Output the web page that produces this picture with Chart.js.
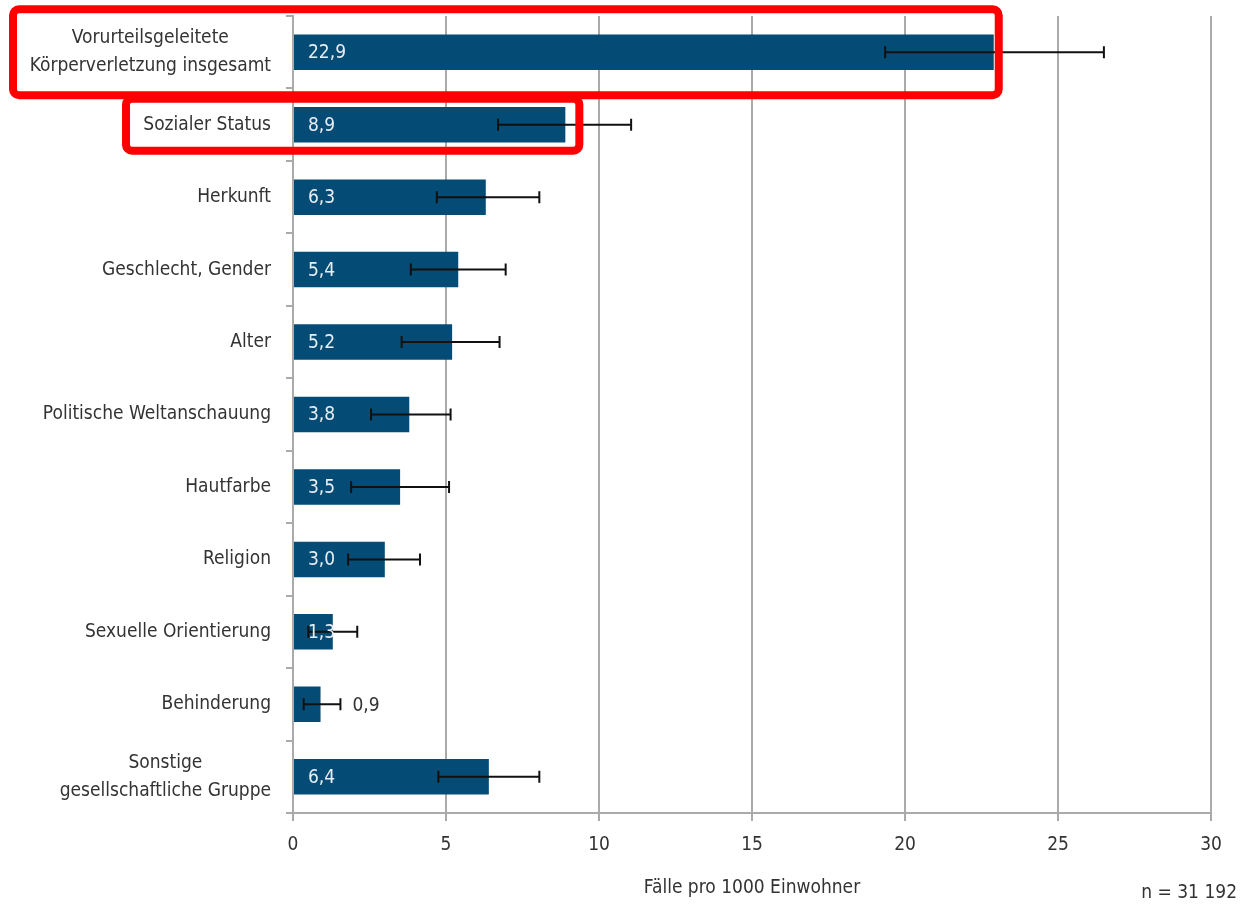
<!DOCTYPE html>
<html>
<head>
<meta charset="utf-8">
<script src="https://cdn.jsdelivr.net/npm/chart.js@4/dist/chart.umd.min.js"></script>
<style>
  html, body { margin: 0; padding: 0; background: #fff; }
  #wrap { width: 1241px; height: 905px; position: relative; }
</style>
</head>
<body>
<div id="wrap"><canvas id="chart" width="1241" height="905"></canvas></div>
<script>
// Daten (Fälle pro 1000 Einwohner)
const categories = [
    ["Vorurteilsgeleitete", "Körperverletzung insgesamt"],
    ["Sozialer Status"],
    ["Herkunft"],
    ["Geschlecht, Gender"],
    ["Alter"],
    ["Politische Weltanschauung"],
    ["Hautfarbe"],
    ["Religion"],
    ["Sexuelle Orientierung"],
    ["Behinderung"],
    ["Sonstige", "gesellschaftliche Gruppe"]
];
const values = [22.9, 8.9, 6.3, 5.4, 5.2, 3.8, 3.5, 3.0, 1.3, 0.9, 6.4];
const errLow = [19.35, 6.7, 4.7, 3.85, 3.55, 2.55, 1.9, 1.8, 0.5, 0.35, 4.75];
const errHigh = [26.5, 11.05, 8.05, 6.95, 6.75, 5.15, 5.1, 4.15, 2.1, 1.55, 8.05];
const xTicks = [0, 5, 10, 15, 20, 25, 30];

const FONT = "'DejaVu Sans Condensed', 'DejaVu Sans', sans-serif";
const FS = 19;
const TEXT = "#333333";
const BAR = "#044b75";

function fmt(v) {
    return v.toFixed(1).replace(".", ",");
}

// Beschriftung der Kategorien (zentriert, rechtsbündiger Block)
const labelPlugin = {
    id: "catLabels",
    afterDraw(chart) {
        const ctx = chart.ctx;
        const y = chart.scales.y;
        const right = y.right - 22;
        ctx.save();
        ctx.font = FS + "px " + FONT;
        ctx.fillStyle = TEXT;
        ctx.textAlign = "center";
        ctx.textBaseline = "middle";
        categories.forEach((lines, i) => {
            const cy = y.getPixelForValue(i);
            const w = Math.max(...lines.map(l => ctx.measureText(l).width));
            const cx = right - w / 2;
            const lh = 28;
            lines.forEach((l, k) => {
                ctx.fillText(l, cx, cy + (k - (lines.length - 1) / 2) * lh);
            });
        });
        ctx.restore();
    }
};

// Fehlerbalken und Werte
const errorPlugin = {
    id: "errorBars",
    afterDatasetsDraw(chart) {
        const ctx = chart.ctx;
        const x = chart.scales.x;
        const y = chart.scales.y;
        ctx.save();
        ctx.strokeStyle = "#111";
        ctx.lineWidth = 2;
        values.forEach((v, i) => {
            const cy = y.getPixelForValue(i);
            const x1 = x.getPixelForValue(errLow[i]);
            const x2 = x.getPixelForValue(errHigh[i]);
            ctx.beginPath();
            ctx.moveTo(x1, cy); ctx.lineTo(x2, cy);
            ctx.moveTo(x1, cy - 6); ctx.lineTo(x1, cy + 6);
            ctx.moveTo(x2, cy - 6); ctx.lineTo(x2, cy + 6);
            ctx.stroke();
        });
        ctx.font = FS + "px " + FONT;
        ctx.textBaseline = "middle";
        ctx.textAlign = "left";
        values.forEach((v, i) => {
            const cy = y.getPixelForValue(i);
            const x0 = x.getPixelForValue(0);
            const xe = x.getPixelForValue(v);
            if (xe - x0 > 35) {
                ctx.fillStyle = "#e8eef3";
                ctx.fillText(fmt(v), x0 + 15, cy + 1);
            } else {
                ctx.fillStyle = TEXT;
                ctx.fillText(fmt(v), x.getPixelForValue(errHigh[i]) + 12, cy + 2);
            }
        });
        ctx.restore();
    }
};

// rote Markierungen
const highlightPlugin = {
    id: "highlight",
    afterDraw(chart, args, opts) {
        const ctx = chart.ctx;
        const x = chart.scales.x;
        const y = chart.scales.y;
        ctx.save();
        ctx.strokeStyle = "#ff0000";
        ctx.lineWidth = 8;
        opts.boxes.forEach(b => {
            const cy = y.getPixelForValue(b.index);
            const left = b.left;
            const right = x.getPixelForValue(values[b.index]) + b.extra;
            ctx.beginPath();
            ctx.roundRect(left, cy - b.half, right - left, 2 * b.half, 6);
            ctx.stroke();
        });
        // Stichprobengröße
        ctx.font = FS + "px " + FONT;
        ctx.fillStyle = TEXT;
        ctx.textAlign = "right";
        ctx.textBaseline = "middle";
        ctx.fillText("n = 31 192", 1237, 893);
        ctx.restore();
    }
};

new Chart(document.getElementById("chart"), {
    type: "bar",
    data: {
        labels: categories.map(c => c.join(" ")),
        datasets: [{
            data: values,
            backgroundColor: BAR,
            barPercentage: 0.49,
            categoryPercentage: 1
        }]
    },
    options: {
        indexAxis: "y",
        responsive: false,
        animation: false,
        layout: { padding: { top: 16, right: 30, left: 0, bottom: 6 } },
        plugins: {
            legend: { display: false },
            tooltip: { enabled: false },
            highlight: {
                boxes: [
                    { index: 0, left: 13, half: 43, extra: 5 },
                    { index: 1, left: 126, half: 26, extra: 14 }
                ]
            }
        },
        scales: {
            x: {
                min: 0,
                max: 30,
                afterBuildTicks: s => { s.ticks = xTicks.map(v => ({ value: v })); },
                afterFit: s => { s.height = 86; },
                grid: { color: "#aaaaaa", lineWidth: 2, tickLength: 8, tickColor: "#aaaaaa" },
                border: { color: "#aaaaaa", width: 2 },
                ticks: { font: { family: FONT, size: FS }, color: TEXT, padding: 13 },
                title: {
                    display: true,
                    text: "Fälle pro 1000 Einwohner",
                    font: { family: FONT, size: FS },
                    color: TEXT,
                    padding: { top: 10, bottom: 0 }
                }
            },
            y: {
                afterFit: s => { s.width = 293; },
                grid: { drawOnChartArea: false, offset: true, tickLength: 7, color: "#aaaaaa", lineWidth: 2 },
                border: { color: "#aaaaaa", width: 2 },
                ticks: { display: false }
            }
        }
    },
    plugins: [labelPlugin, errorPlugin, highlightPlugin]
});
</script>
</body>
</html>
